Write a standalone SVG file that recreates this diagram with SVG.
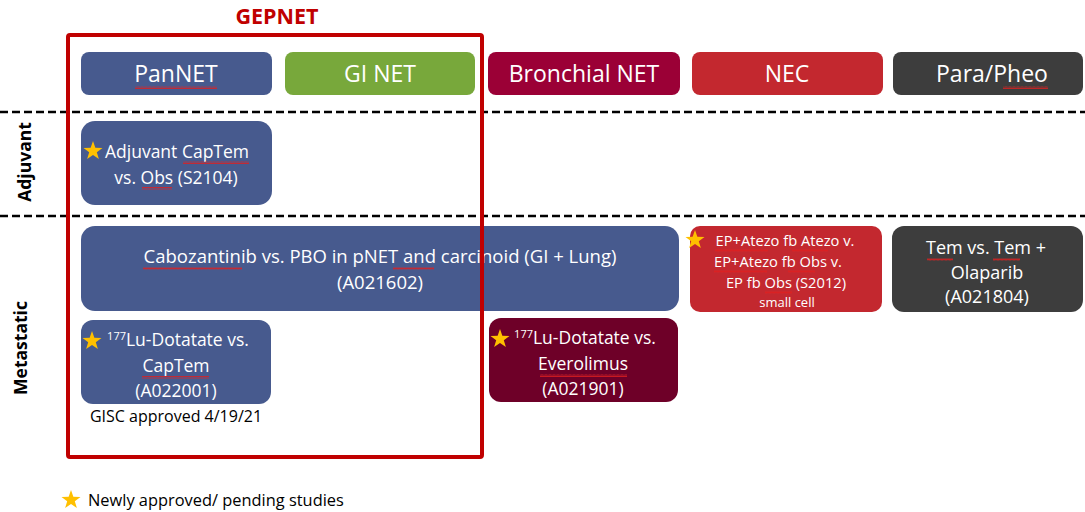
<svg xmlns="http://www.w3.org/2000/svg" width="1085" height="512" viewBox="0 0 1085 512">
<defs>
<style>
text{font-family:"Open Sans",Lato,"DejaVu Sans",sans-serif;fill:#fff;text-anchor:middle}
.hd{font-size:23px}
.bx{font-size:17.5px}
.sm{font-size:14.7px}
.lab{font-size:17.5px;font-weight:bold;fill:#000}
.blk{fill:#000}
.dash{stroke:#000;stroke-width:2.5;stroke-dasharray:8 4;fill:none}
.blue{fill:#475A8E}
.wv{fill:url(#wavy)}
</style>
<pattern id="wavy" width="4" height="3" patternUnits="userSpaceOnUse"><path d="M0 2.5 L1 0.5 L2 2.5 L3 0.5 L4 2.5" fill="none" stroke="#E02020" stroke-width="0.8"/></pattern>
<path id="star" d="M0,-10 L2.35,-3.24 L9.51,-3.09 L3.8,1.24 L5.88,8.09 L0,4 L-5.88,8.09 L-3.8,1.24 L-9.51,-3.09 L-2.35,-3.24 Z" fill="#FFC000"/>
</defs>
<rect width="1085" height="512" fill="#fff"/>
<text x="277" y="24" style="font-size:21.5px;font-weight:bold;fill:#C00000">GEPNET</text>
<g id="rows">
<line class="dash" x1="0" y1="112" x2="1085" y2="112"/>
<line class="dash" x1="0" y1="216" x2="1085" y2="216"/>
<text class="lab" transform="translate(31,162) rotate(-90)">Adjuvant</text>
<text class="lab" transform="translate(27,348) rotate(-90)">Metastatic</text>
</g>
<g id="pannet"><rect x="81" y="52" width="191" height="43" rx="8" class="blue"/><text class="hd" x="176" y="82">PanNET</text><rect class="wv" x="135" y="86" width="82" height="3"/></g>
<g id="ginet"><rect x="285" y="52" width="190" height="43" rx="8" fill="#78A83B"/><text class="hd" x="380" y="82">GI NET</text></g>
<g id="bronchial"><rect x="488" y="52" width="192" height="43" rx="8" fill="#9B0036"/><text class="hd" x="584" y="82">Bronchial NET</text></g>
<g id="nec"><rect x="692" y="52" width="191" height="43" rx="8" fill="#C3282F"/><text class="hd" x="787" y="82">NEC</text></g>
<g id="parapheo"><rect x="893" y="52" width="190" height="43" rx="8" fill="#3D3D3D"/><text class="hd" x="992" y="82">Para/Pheo</text><rect class="wv" x="1003" y="86" width="45" height="3"/></g>
<g id="adjuvant-s2104"><rect x="81" y="121" width="191" height="84" rx="14" class="blue"/><use href="#star" x="93" y="151"/><text class="bx" x="177" y="158">Adjuvant CapTem</text><text class="bx" x="176" y="184">vs. Obs (S2104)</text><rect class="wv" x="183" y="161" width="66" height="3"/><rect class="wv" x="142" y="187" width="30" height="3"/></g>
<g id="a021602"><rect x="81" y="226" width="598" height="85" rx="14" class="blue"/><text class="bx" x="380" y="263" style="font-size:18.5px">Cabozantinib vs. PBO in pNET and carcinoid (GI + Lung)</text><text class="bx" x="380" y="289" style="font-size:18.5px">(A021602)</text><rect class="wv" x="143" y="267" width="99" height="3"/><rect class="wv" x="393" y="267" width="41" height="3"/></g>
<g id="s2012"><rect x="690" y="226" width="192" height="86" rx="10" fill="#C3282F"/><use href="#star" x="695" y="240"/><text class="sm" x="785" y="246">EP+Atezo fb Atezo v.</text><text class="sm" x="778" y="267">EP+Atezo fb Obs v.</text><text class="sm" x="786" y="288">EP fb Obs (S2012)</text><text class="sm" x="787" y="307" style="font-size:13px">small cell</text><rect class="wv" x="715" y="249" width="53" height="3"/><rect class="wv" x="792" y="249" width="36" height="3"/><rect class="wv" x="714" y="270" width="53" height="3"/><rect class="wv" x="788" y="270" width="27" height="3"/><rect class="wv" x="765" y="291" width="27" height="3"/></g>
<g id="a021804"><rect x="892" y="226" width="191" height="86" rx="12" fill="#3D3D3D"/><text class="bx" x="986" y="254" style="font-size:18px">Tem vs. Tem +</text><text class="bx" x="987" y="279" style="font-size:18px">Olaparib</text><text class="bx" x="987" y="303" style="font-size:18px">(A021804)</text><rect class="wv" x="927" y="258" width="26" height="3"/><rect class="wv" x="993" y="258" width="27" height="3"/></g>
<g id="a022001"><rect x="81" y="320" width="190" height="84" rx="12" class="blue"/><use href="#star" x="92" y="341"/><text class="bx" x="178" y="346"><tspan style="font-size:11px" dy="-6">177</tspan><tspan dy="6">Lu-Dotatate vs.</tspan></text><text class="bx" x="176" y="372">CapTem</text><text class="bx" x="176" y="397">(A022001)</text><rect class="wv" x="142" y="376" width="67" height="3"/></g>
<text class="blk" x="176" y="422" style="font-size:16px">GISC approved 4/19/21</text>
<g id="a021901"><rect x="489" y="318" width="189" height="84" rx="12" fill="#6E0028"/><use href="#star" x="500" y="339"/><text class="bx" x="585" y="344"><tspan style="font-size:11px" dy="-6">177</tspan><tspan dy="6">Lu-Dotatate vs.</tspan></text><text class="bx" x="583" y="370">Everolimus</text><text class="bx" x="583" y="395">(A021901)</text><rect class="wv" x="540" y="374" width="87" height="3"/></g>
<g id="gepnet-frame"><rect x="68" y="35" width="414" height="422" fill="none" stroke="#C00000" stroke-width="4" rx="2"/></g>
<g id="legend"><use href="#star" x="71" y="500"/><text class="blk" x="88" y="506" style="font-size:16.4px;text-anchor:start">Newly approved/ pending studies</text></g>
</svg>
